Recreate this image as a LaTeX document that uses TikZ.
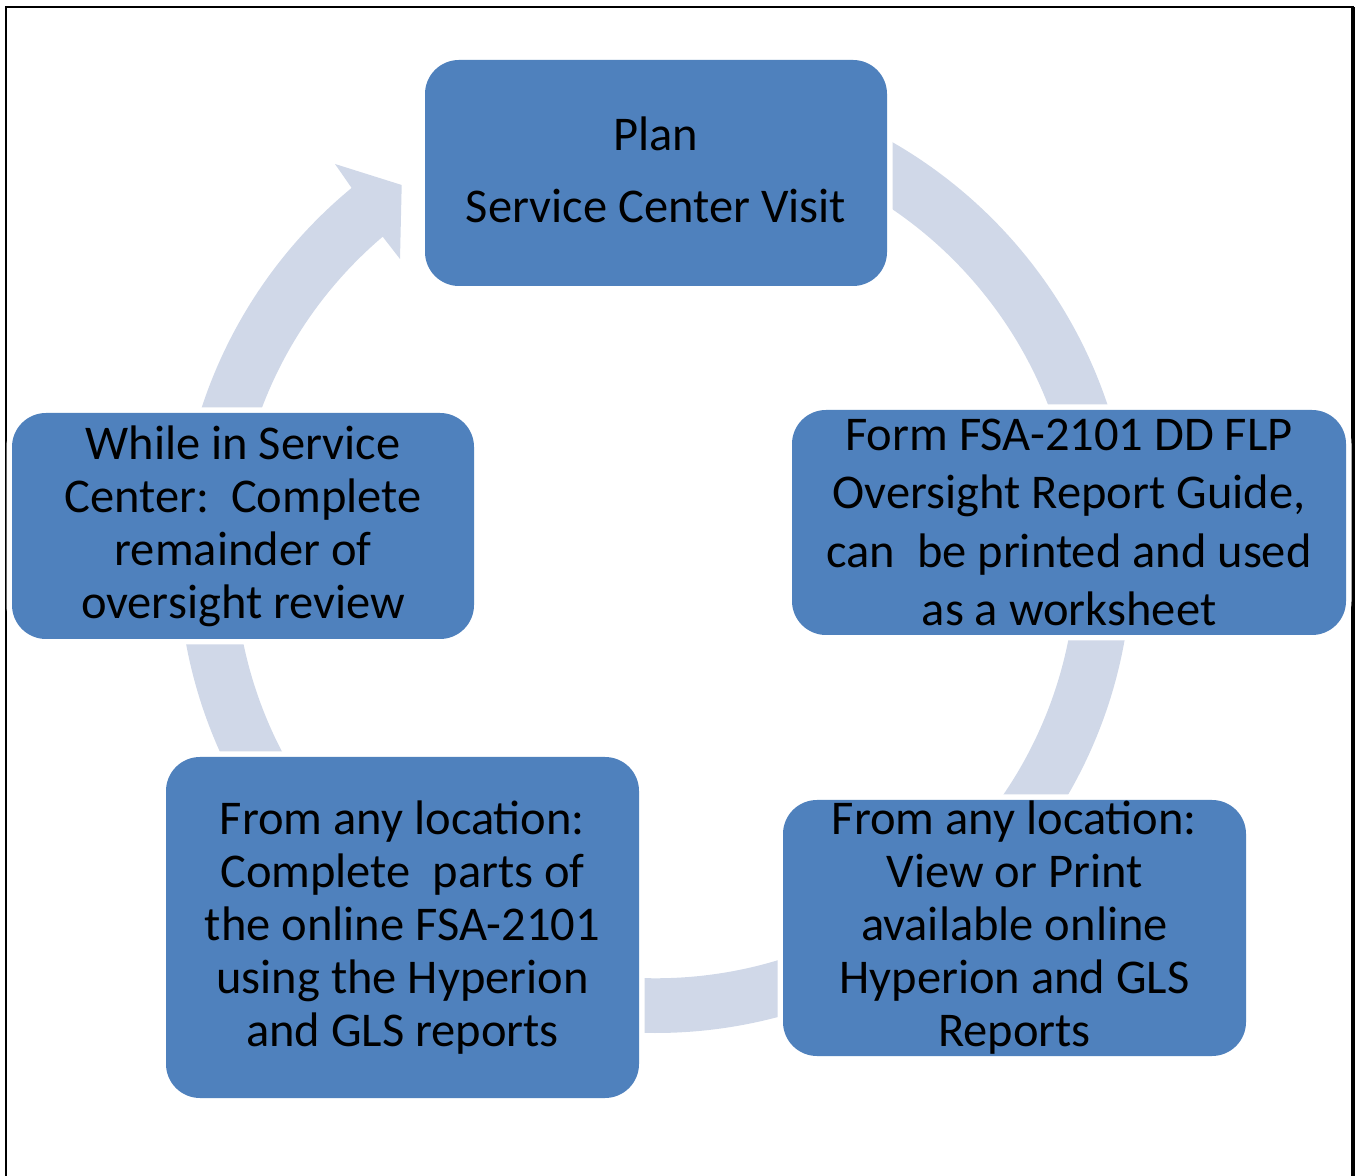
\documentclass[tikz,border=0pt]{standalone}
\usepackage{fontspec}
\setmainfont{Carlito}
\definecolor{boxblue}{HTML}{4F81BD}
\definecolor{ringcol}{HTML}{D0D8E8}
\begin{document}
\begin{tikzpicture}[x=1pt,y=1pt,
  cbox/.style={rectangle, rounded corners=34pt, fill=boxblue,
    preaction={draw=white, line width=11pt},
    inner sep=0pt, align=center, text=black}]
\useasboundingbox (0,0) rectangle (1356,1175);
% frame
\draw[line width=2.5pt] (6,-20) -- (6,1168) -- (1353,1168) -- (1353,-20);
\draw[line width=4.5pt] (1353,1168) -- (1353,-20);
% ring with arrowhead
\fill[ringcol] (655,1096) arc[start angle=90,end angle=-230.5,radius=477]
  -- (335,1011) -- (401.7,990) -- (400,916) -- (382.7,938.3)
  arc[start angle=-229.6,end angle=90,radius=421] -- cycle;
% boxes
\node[cbox, minimum width=462pt, minimum height=226pt] (plan) at (656,1002) {};
\node[align=center, inner sep=0pt, font=\fontsize{48.5}{72}\selectfont]
  (plantext) at (656,1005) {Plan\\Service Center Visit};
\node[cbox, minimum width=554pt, minimum height=225pt, font=\fontsize{48.5}{58.5}\selectfont]
  (form) at (1069,652.5) {Form FSA-2101 DD FLP\\Oversight Report Guide,\\can\ \ be printed and used\\as a worksheet};
\node[cbox, minimum width=463pt, minimum height=256pt, font=\fontsize{48.5}{53}\selectfont]
  (view) at (1014.5,247) {From any location:\\View or Print\\available online\\Hyperion and GLS\\Reports};
\node[cbox, minimum width=473pt, minimum height=341pt, font=\fontsize{48.5}{53}\selectfont]
  (compl) at (402.5,247.5) {From any location:\\Complete\ \ parts of\\the online FSA-2101\\using the Hyperion\\and GLS reports};
\node[cbox, minimum width=462pt, minimum height=226pt, font=\fontsize{48.5}{53}\selectfont]
  (while) at (243,649) {While in Service\\Center:\ \ Complete\\remainder of\\oversight review};
\end{tikzpicture}
\end{document}
